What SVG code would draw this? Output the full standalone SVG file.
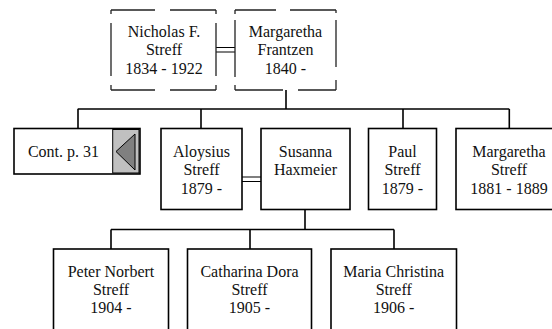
<svg xmlns="http://www.w3.org/2000/svg" width="552" height="329" viewBox="0 0 552 329">
<style>
.box{fill:#fff;stroke:#000;stroke-width:1.6}
.dash{fill:none;stroke:#222;stroke-width:1.3}
.ln{fill:none;stroke:#000;stroke-width:1.6}
.dbl{fill:none;stroke:#000;stroke-width:1.2}
text{font-family:"Liberation Serif","Times New Roman",serif;font-size:16px;fill:#111;text-anchor:middle}
</style>
<rect width="552" height="329" fill="#fff"/>
<g id="connectors">
<path class="dbl" d="M216 47.5H235 M216 52H235"/>
<path class="dbl" d="M242 177H261 M242 181.5H261"/>
<path class="ln" d="M286 90V109 M77.7 109H509.3 M78 109V128.5 M201 109V128.5 M403 109V128.5 M509.3 109V128.5"/>
<path class="ln" d="M305 209.5V229.5 M111 229.5H394 M111 229.5V249 M250 229.5V249 M394 229.5V249"/>
</g>
<g id="nicholas">
<path class="dash" d="M111 10H155 M170 10H216 M111 90H155 M170 90H216 M111 10V14 M111 23V76 M111 85V90 M216 10V14 M216 23V76 M216 85V90"/>
<text x="164" y="36.5">Nicholas F.</text>
<text x="164" y="55">Streff</text>
<text x="164" y="73.5">1834 - 1922</text>
</g>
<g id="margaretha-frantzen">
<path class="dash" d="M235 10H276 M290 10H336 M235 90H283 M298 90H336 M235 10V14 M235 20V77 M235 85V90 M336 10V13 M336 20V67 M336 80V90"/>
<text x="285.5" y="36.5">Margaretha</text>
<text x="285.5" y="55">Frantzen</text>
<text x="285.5" y="73.5">1840 -</text>
</g>
<g id="cont">
<rect class="box" x="14" y="128.5" width="126" height="45.5" stroke-width="2"/>
<rect x="112.7" y="129.5" width="26.3" height="43.5" fill="#c0c0c0" stroke="#000" stroke-width="1"/>
<polygon points="116,151.5 135,134 135,170" fill="#808080" stroke="#000" stroke-width="1"/>
<text x="63.5" y="157">Cont. p. 31</text>
</g>
<g id="aloysius">
<rect class="box" x="161" y="128.5" width="81" height="81"/>
<text x="201.5" y="156.5">Aloysius</text>
<text x="201.5" y="175">Streff</text>
<text x="201.5" y="193.5">1879 -</text>
</g>
<g id="susanna">
<rect class="box" x="261" y="128.5" width="89" height="81"/>
<text x="305.5" y="156.5">Susanna</text>
<text x="305.5" y="175">Haxmeier</text>
</g>
<g id="paul">
<rect class="box" x="368.5" y="128.5" width="68" height="81"/>
<text x="402.5" y="156.5">Paul</text>
<text x="402.5" y="175">Streff</text>
<text x="402.5" y="193.5">1879 -</text>
</g>
<g id="margaretha-streff">
<rect class="box" x="456" y="128.5" width="110" height="81"/>
<text x="509" y="156.5">Margaretha</text>
<text x="509" y="175">Streff</text>
<text x="509" y="193.5">1881 - 1889</text>
</g>
<g id="peter">
<rect class="box" x="53.5" y="249" width="115" height="100"/>
<text x="111" y="276.5">Peter Norbert</text>
<text x="111" y="295">Streff</text>
<text x="111" y="313">1904 -</text>
</g>
<g id="catharina">
<rect class="box" x="187.5" y="249" width="124" height="100"/>
<text x="249.5" y="276.5">Catharina Dora</text>
<text x="249.5" y="295">Streff</text>
<text x="249.5" y="313">1905 -</text>
</g>
<g id="maria">
<rect class="box" x="331" y="249" width="125.5" height="100"/>
<text x="393.7" y="276.5">Maria Christina</text>
<text x="393.7" y="295">Streff</text>
<text x="393.7" y="313">1906 -</text>
</g>
</svg>
